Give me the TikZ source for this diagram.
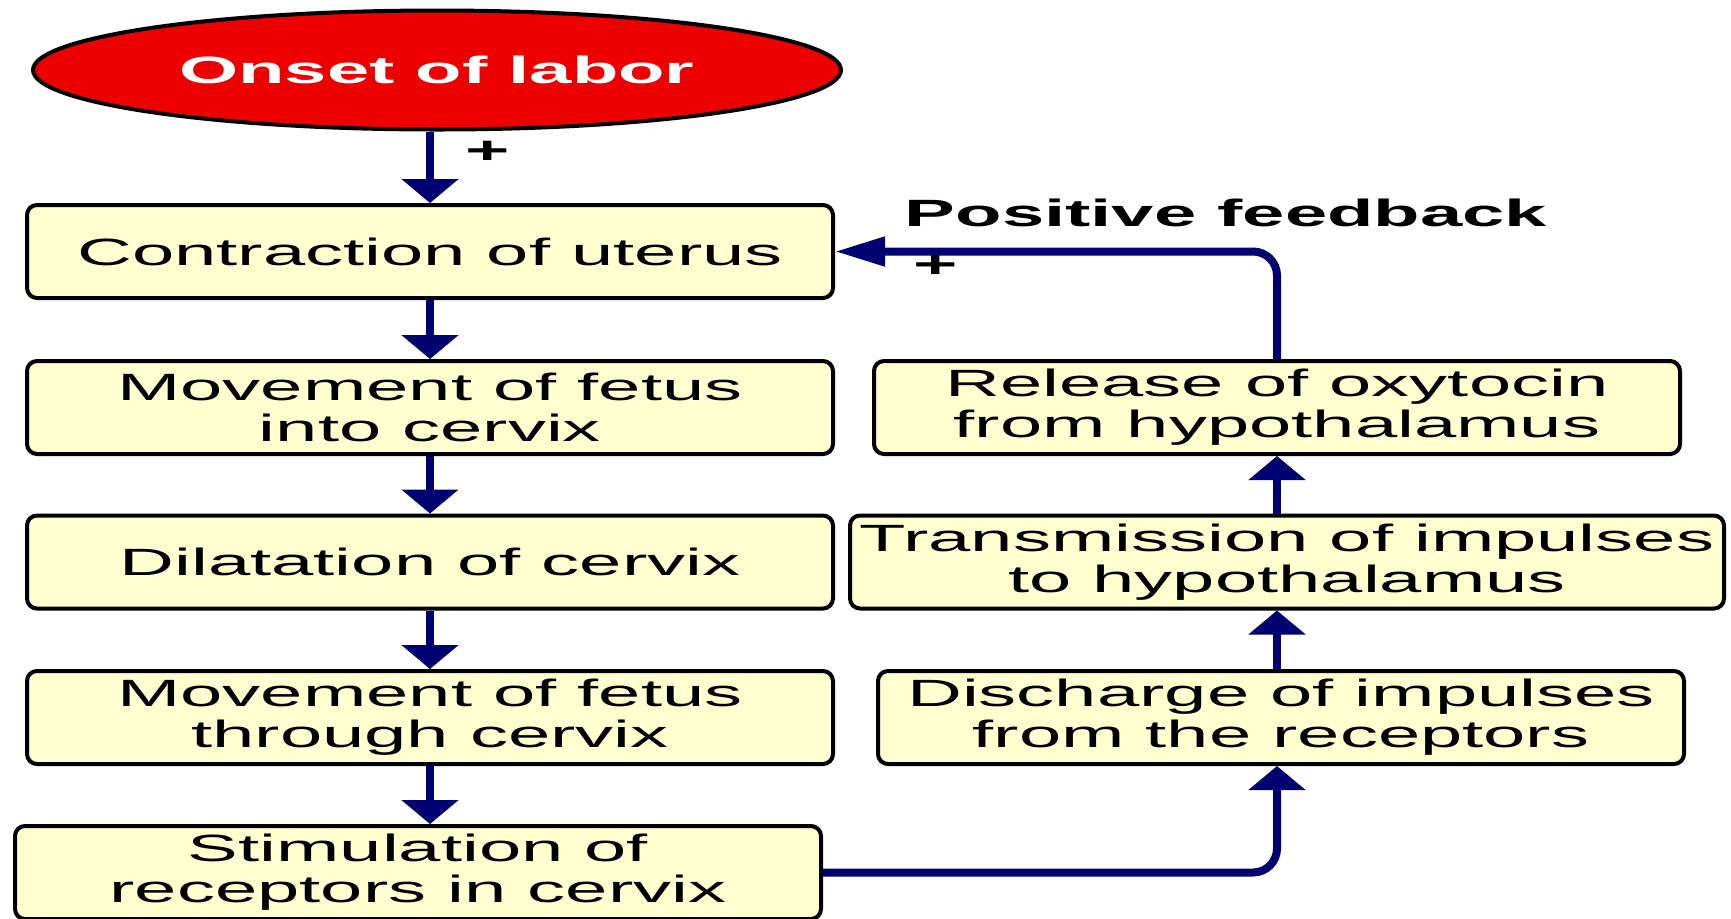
\documentclass[tikz,border=0pt]{standalone}
\usepackage{fontspec}
\setmainfont{Liberation Sans}[FakeStretch=2.0]
\usetikzlibrary{arrows.meta,shapes.geometric}
\definecolor{boxfill}{RGB}{255,255,208}
\definecolor{flowblue}{RGB}{0,0,112}
\definecolor{onsetred}{RGB}{236,0,0}
\tikzset{
  vtip/.style={-{Triangle[width=28pt,length=12pt]}},
  htip/.style={-{Triangle[width=14pt,length=25pt]}},
}

\begin{document}
\begin{tikzpicture}[x=0.5pt,y=-0.5pt,
    box/.style={draw, line width=2pt, rounded corners=5pt, fill=boxfill,
      minimum width=403pt, minimum height=46.5pt, inner sep=2pt, align=center,
      font=\fontsize{19}{20.5}\selectfont},
    onset/.style={ellipse, draw, line width=2pt, fill=onsetred, text=white,
      minimum width=404pt, minimum height=59.5pt,
      font=\fontsize{19}{20.5}\selectfont\bfseries},
    flow/.style={flowblue, line width=4pt},
    sign/.style={font=\fontsize{19}{20.5}\selectfont\bfseries, inner sep=0pt},
]
    \useasboundingbox (0,0) rectangle (1731,918);

    %left column
    \node[onset] (onset) at (437,70) {Onset of labor};
    \node[box] (contr) at (430,251.5) {Contraction of uterus};
    \node[box] (move1) at (430,407.5) {Movement of fetus\\into cervix};
    \node[box] (dilat) at (430,562) {Dilatation of cervix};
    \node[box] (move2) at (430,717.5) {Movement of fetus\\through cervix};
    \node[box] (stim) at (418,872.5) {Stimulation of\\receptors in cervix};

    %right column
    \node[box] (rel) at (1277,407.5) {Release of oxytocin\\from hypothalamus};
    \node[box, minimum width=437pt] (trans) at (1287,562) {Transmission of impulses\\to hypothalamus};
    \node[box] (disc) at (1281,717.5) {Discharge of impulses\\from the receptors};

    \node[sign] (plusa) at (488,152) {+};
    \node[sign] (plusb) at (936,266) {+};
    \node[sign] (fb) at (1226,213) {Positive feedback};

    \draw[flow,vtip] (onset.south -| contr.north) -- (contr.north);
    \draw[flow,vtip] (contr) -- (move1);
    \draw[flow,vtip] (move1) -- (dilat);
    \draw[flow,vtip] (dilat) -- (move2);
    \draw[flow,vtip] (move2.south) -- (move2.south |- stim.north);

    %feedback loop
    \draw[flow,vtip,rounded corners=12pt] (stim.east) -| (rel.south |- disc.south);
    \draw[flow,vtip] (rel.south |- disc.north) -- (rel.south |- trans.south);
    \draw[flow,vtip] (rel.south |- trans.north) -- (rel.south);
    \draw[flow,htip,rounded corners=12pt] (rel.north) |- (contr.east);
\end{tikzpicture}
\end{document}
